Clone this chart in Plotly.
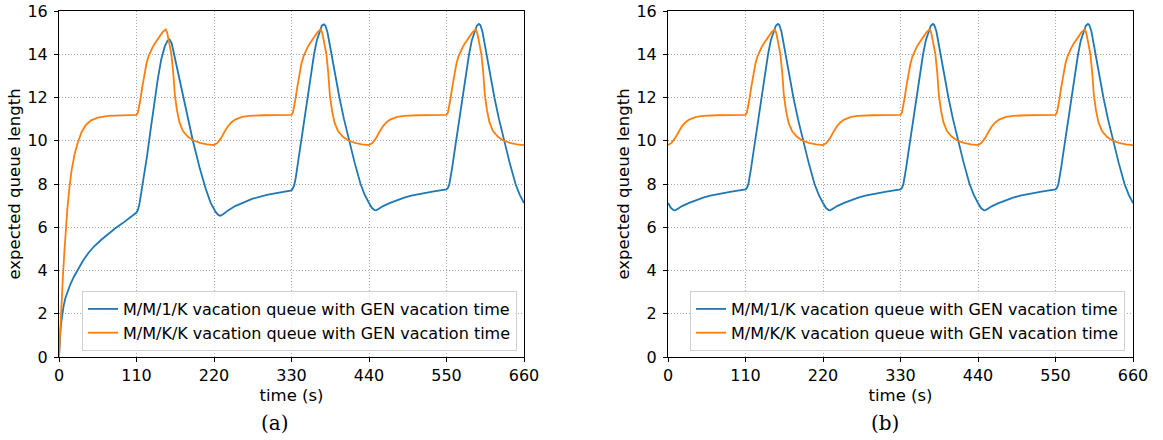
import plotly.graph_objects as go

# ---------------- data ----------------
# (a) M/M/1/K  (blue)
t_a_m1 = [0, 0.5, 1, 2, 3, 4.5, 6.5, 9, 12, 16, 21, 27, 34, 42, 50, 60, 70, 80, 90, 100, 110,
          112, 114, 116, 118, 120, 125, 130, 135, 140, 145, 150, 154, 157, 160, 163, 168, 174, 181, 190, 200, 208, 215, 222, 226, 229, 233,
          240, 250, 260, 275, 295, 312, 330,
          332, 334, 336, 338, 340, 343.5, 348, 352.5, 357, 362, 366, 370, 373, 376, 378, 381, 384, 386.5, 392, 398, 404.5, 411.5, 419.5, 428, 434, 440,
          444, 448, 450, 454, 460, 470, 480, 490, 500, 515, 530, 550,
          552, 554, 556, 558, 560, 563.5, 568, 572.5, 577, 582, 586, 590, 593, 596, 598, 601, 604, 606.5, 612, 618, 624.5, 631.5, 639.5, 648, 654, 660]
q_a_m1 = [0, 0.45, 0.75, 1.2, 1.55, 1.95, 2.35, 2.72, 3.0, 3.35, 3.7, 4.05, 4.45, 4.82, 5.12, 5.42, 5.7, 5.95, 6.18, 6.42, 6.68,
          6.8, 7.05, 7.45, 7.85, 8.25, 9.3, 10.5, 11.7, 12.8, 13.75, 14.35, 14.62, 14.68, 14.5, 14.05, 13.2, 12.3, 11.3, 10.0, 8.7, 7.8, 7.15, 6.72, 6.57, 6.53, 6.6,
          6.78, 6.98, 7.13, 7.32, 7.5, 7.6, 7.7,
          7.8, 7.96, 8.28, 8.73, 9.2, 10.0, 11.0, 12.0, 12.95, 14.0, 14.65, 15.1, 15.32, 15.38, 15.33, 15.03, 14.5, 14.0, 13.0, 12.0, 11.0, 10.0, 9.0, 8.0, 7.5, 7.12,
          6.9, 6.79, 6.78, 6.86, 6.98, 7.13, 7.26, 7.37, 7.46, 7.57, 7.65, 7.75,
          7.82, 7.98, 8.3, 8.75, 9.2, 10.0, 11.0, 12.0, 12.95, 14.0, 14.65, 15.1, 15.32, 15.4, 15.35, 15.05, 14.5, 14.0, 13.0, 12.0, 11.0, 10.0, 9.0, 8.0, 7.5, 7.12]

# (a) M/M/K/K  (orange)
t_a_mk = [0, 1, 2, 3, 4, 5.5, 7.5, 9.5, 12, 15, 18, 22, 26.5, 32, 38, 45, 55, 70, 90, 110,
          112, 114, 116, 118, 121, 124, 127, 130, 133, 136, 142, 147, 151.5, 153.5, 156, 159.5, 162, 164.5, 167.5, 171, 176, 183, 190, 200, 210, 220,
          225, 230, 235, 240, 245, 250, 260, 270, 290, 330,
          332, 334, 336, 338, 341, 344, 347, 350, 353, 356, 362, 367, 371.5, 373.5, 376, 379.5, 382, 384.5, 387.5, 391, 396, 403, 410, 420, 430, 440,
          445, 450, 455, 460, 465, 470, 480, 490, 510, 550,
          552, 554, 556, 558, 561, 564, 567, 570, 573, 576, 582, 587, 591.5, 593.5, 596, 599.5, 602, 604.5, 607.5, 611, 616, 623, 630, 640, 650, 660]
q_a_mk = [0, 0.75, 1.45, 2.15, 2.8, 3.7, 4.8, 5.8, 6.9, 7.9, 8.65, 9.35, 9.9, 10.4, 10.72, 10.93, 11.07, 11.15, 11.18, 11.2,
          11.3, 11.6, 12.0, 12.45, 13.05, 13.55, 13.9, 14.15, 14.33, 14.5, 14.82, 15.02, 15.15, 15.0, 14.6, 14.0, 13.2, 12.1, 11.4, 10.85, 10.45, 10.18, 10.02, 9.9, 9.83, 9.8,
          9.9, 10.12, 10.42, 10.68, 10.86, 10.98, 11.1, 11.15, 11.18, 11.2,
          11.3, 11.6, 12.0, 12.45, 13.05, 13.55, 13.9, 14.15, 14.33, 14.5, 14.82, 15.02, 15.15, 15.0, 14.6, 14.0, 13.2, 12.1, 11.4, 10.85, 10.45, 10.18, 10.02, 9.9, 9.83, 9.8,
          9.9, 10.12, 10.42, 10.68, 10.86, 10.98, 11.1, 11.15, 11.18, 11.2,
          11.3, 11.6, 12.0, 12.45, 13.05, 13.55, 13.9, 14.15, 14.33, 14.5, 14.82, 15.02, 15.15, 15.0, 14.6, 14.0, 13.2, 12.1, 11.4, 10.85, 10.45, 10.18, 10.02, 9.9, 9.83, 9.8]

# (b) M/M/1/K  (blue)
t_b_m1 = [0, 4, 8, 10, 14, 20, 30, 40, 50, 60, 75, 90, 110,
          112, 114, 116, 118, 120, 123.5, 128, 132.5, 137, 142, 146, 150, 153, 156, 158, 161, 164, 166.5, 172, 178, 184.5, 191.5, 199.5, 208, 214, 220,
          224, 228, 230, 234, 240, 250, 260, 270, 280, 295, 310, 330,
          332, 334, 336, 338, 340, 343.5, 348, 352.5, 357, 362, 366, 370, 373, 376, 378, 381, 384, 386.5, 392, 398, 404.5, 411.5, 419.5, 428, 434, 440,
          444, 448, 450, 454, 460, 470, 480, 490, 500, 515, 530, 550,
          552, 554, 556, 558, 560, 563.5, 568, 572.5, 577, 582, 586, 590, 593, 596, 598, 601, 604, 606.5, 612, 618, 624.5, 631.5, 639.5, 648, 654, 660]
q_b_m1 = [7.12, 6.9, 6.79, 6.78, 6.86, 6.98, 7.13, 7.26, 7.37, 7.46, 7.57, 7.65, 7.75,
          7.82, 7.98, 8.3, 8.75, 9.2, 10.0, 11.0, 12.0, 12.95, 14.0, 14.65, 15.1, 15.32, 15.4, 15.35, 15.05, 14.5, 14.0, 13.0, 12.0, 11.0, 10.0, 9.0, 8.0, 7.5, 7.12,
          6.9, 6.79, 6.78, 6.86, 6.98, 7.13, 7.26, 7.37, 7.46, 7.57, 7.65, 7.75,
          7.82, 7.98, 8.3, 8.75, 9.2, 10.0, 11.0, 12.0, 12.95, 14.0, 14.65, 15.1, 15.32, 15.4, 15.35, 15.05, 14.5, 14.0, 13.0, 12.0, 11.0, 10.0, 9.0, 8.0, 7.5, 7.12,
          6.9, 6.79, 6.78, 6.86, 6.98, 7.13, 7.26, 7.37, 7.46, 7.57, 7.65, 7.75,
          7.82, 7.98, 8.3, 8.75, 9.2, 10.0, 11.0, 12.0, 12.95, 14.0, 14.65, 15.1, 15.32, 15.4, 15.35, 15.05, 14.5, 14.0, 13.0, 12.0, 11.0, 10.0, 9.0, 8.0, 7.5, 7.12]

# (b) M/M/K/K  (orange)
t_b_mk = [0, 5, 10, 15, 20, 25, 30, 40, 50, 70, 110,
          112, 114, 116, 118, 121, 124, 127, 130, 133, 136, 142, 147, 151.5, 153.5, 156, 159.5, 162, 164.5, 167.5, 171, 176, 183, 190, 200, 210, 220,
          225, 230, 235, 240, 245, 250, 260, 270, 290, 330,
          332, 334, 336, 338, 341, 344, 347, 350, 353, 356, 362, 367, 371.5, 373.5, 376, 379.5, 382, 384.5, 387.5, 391, 396, 403, 410, 420, 430, 440,
          445, 450, 455, 460, 465, 470, 480, 490, 510, 550,
          552, 554, 556, 558, 561, 564, 567, 570, 573, 576, 582, 587, 591.5, 593.5, 596, 599.5, 602, 604.5, 607.5, 611, 616, 623, 630, 640, 650, 660]
q_b_mk = [9.8, 9.9, 10.12, 10.42, 10.68, 10.86, 10.98, 11.1, 11.15, 11.18, 11.2,
          11.3, 11.6, 12.0, 12.45, 13.05, 13.55, 13.9, 14.15, 14.33, 14.5, 14.82, 15.02, 15.15, 15.0, 14.6, 14.0, 13.2, 12.1, 11.4, 10.85, 10.45, 10.18, 10.02, 9.9, 9.83, 9.8,
          9.9, 10.12, 10.42, 10.68, 10.86, 10.98, 11.1, 11.15, 11.18, 11.2,
          11.3, 11.6, 12.0, 12.45, 13.05, 13.55, 13.9, 14.15, 14.33, 14.5, 14.82, 15.02, 15.15, 15.0, 14.6, 14.0, 13.2, 12.1, 11.4, 10.85, 10.45, 10.18, 10.02, 9.9, 9.83, 9.8,
          9.9, 10.12, 10.42, 10.68, 10.86, 10.98, 11.1, 11.15, 11.18, 11.2,
          11.3, 11.6, 12.0, 12.45, 13.05, 13.55, 13.9, 14.15, 14.33, 14.5, 14.82, 15.02, 15.15, 15.0, 14.6, 14.0, 13.2, 12.1, 11.4, 10.85, 10.45, 10.18, 10.02, 9.9, 9.83, 9.8]

x_ticks = [0, 110, 220, 330, 440, 550, 660]
y_ticks = [0, 2, 4, 6, 8, 10, 12, 14, 16]
name_m1 = "M/M/1/K vacation queue with GEN vacation time"
name_mk = "M/M/K/K vacation queue with GEN vacation time"
captions = ["(a)", "(b)"]

BLUE = "#1f77b4"
ORANGE = "#ff7f0e"
FONT = "DejaVu Sans"

# ---------------- figure ----------------
W, H = 1163, 440
ML, MT = 59, 11
MR = W - 1133
MB = H - 357
PW = W - ML - MR
PH = H - MT - MB


def px_x(px):
    # window pixel -> paper fraction
    return (px - ML) / PW


def px_y(py):
    return (H - MB - py) / PH


left_dom = [0, px_x(524)]
right_dom = [px_x(668), 1]

fig = go.Figure()
fig.add_trace(go.Scatter(x=t_a_m1, y=q_a_m1, mode="lines", name=name_m1,
                         line=dict(color=BLUE, width=1.8), xaxis="x", yaxis="y", legend="legend"))
fig.add_trace(go.Scatter(x=t_a_mk, y=q_a_mk, mode="lines", name=name_mk,
                         line=dict(color=ORANGE, width=1.8), xaxis="x", yaxis="y", legend="legend"))
fig.add_trace(go.Scatter(x=t_b_m1, y=q_b_m1, mode="lines", name=name_m1,
                         line=dict(color=BLUE, width=1.8), xaxis="x2", yaxis="y2", legend="legend2"))
fig.add_trace(go.Scatter(x=t_b_mk, y=q_b_mk, mode="lines", name=name_mk,
                         line=dict(color=ORANGE, width=1.8), xaxis="x2", yaxis="y2", legend="legend2"))

axis_common = dict(showline=True, linecolor="black", linewidth=1, mirror=True,
                   ticks="outside", ticklen=4, tickcolor="black", tickwidth=1,
                   showgrid=True, gridcolor="#a8a8a8", gridwidth=0.9, griddash="1px,2px",
                   zeroline=False, automargin=False,
                   tickfont=dict(family=FONT, size=16, color="black"))

xa = dict(axis_common, range=[0, 660], tickmode="array", tickvals=x_ticks,
          title=dict(text="time (s)", font=dict(family=FONT, size=16.5, color="black"), standoff=5))
ya = dict(axis_common, range=[0, 16], tickmode="array", tickvals=y_ticks, ticklabelstandoff=3,
          title=dict(text="expected queue length", font=dict(family=FONT, size=16.5, color="black"), standoff=2))

legend_common = dict(bgcolor="rgba(255,255,255,0.8)", bordercolor="#d0d0d0", borderwidth=1,
                     font=dict(family=FONT, size=16, color="black"),
                     xanchor="left", yanchor="bottom", itemwidth=30, tracegroupgap=0)

fig.update_layout(
    width=W, height=H,
    margin=dict(l=ML, r=MR, t=MT, b=MB),
    paper_bgcolor="white", plot_bgcolor="white",
    font=dict(family=FONT, size=16, color="black"),
    xaxis=dict(xa, domain=left_dom, anchor="y"),
    yaxis=dict(ya, domain=[0, 1], anchor="x"),
    xaxis2=dict(xa, domain=right_dom, anchor="y2"),
    yaxis2=dict(ya, domain=[0, 1], anchor="x2"),
    legend=dict(legend_common, x=px_x(82), y=px_y(351)),
    legend2=dict(legend_common, x=px_x(690), y=px_y(351)),
    showlegend=True,
)

for cap, cx in zip(captions, [275, 885]):
    fig.add_annotation(text=cap, xref="paper", yref="paper",
                       x=px_x(cx), y=px_y(423),
                       xanchor="center", yanchor="middle", showarrow=False,
                       font=dict(family="DejaVu Serif", size=20, color="black"))

fig.write_html("out.html",
               config={"displayModeBar": False},
               post_script="document.body.style.margin='0';document.body.style.overflow='hidden';")
